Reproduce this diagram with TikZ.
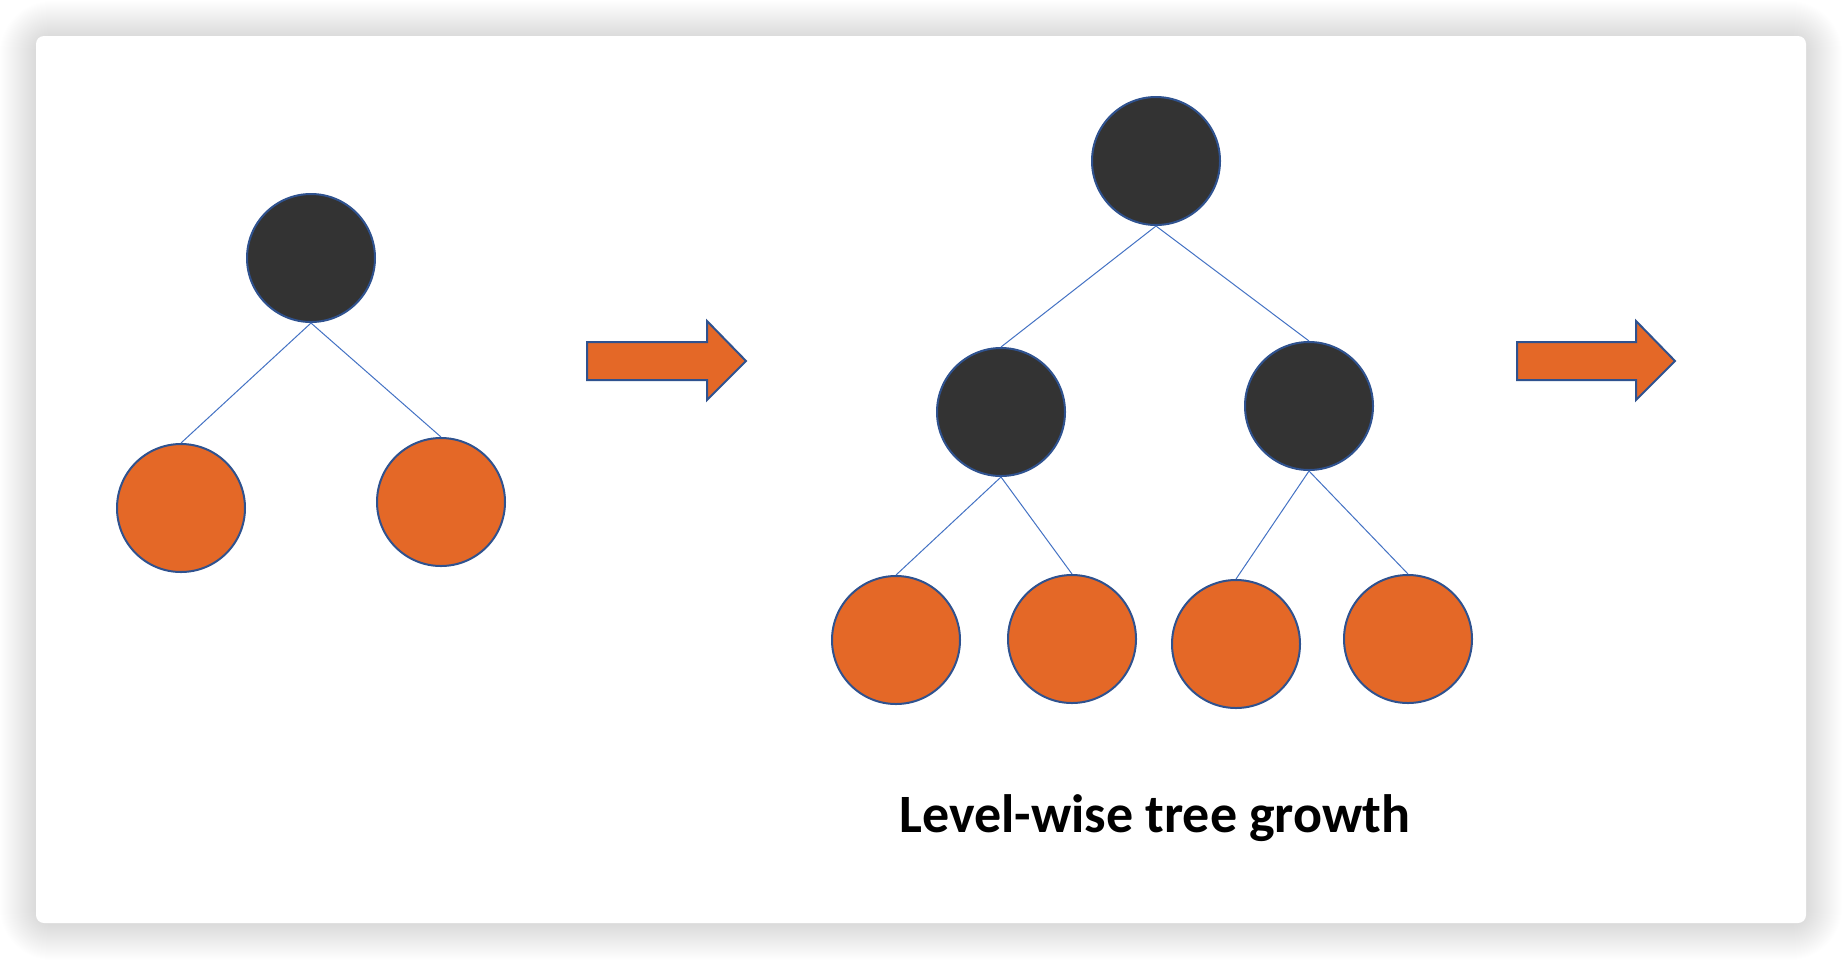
\documentclass[tikz,border=0pt]{standalone}
\usepackage{fontspec}
\newfontfamily\titlefont{Carlito}
\definecolor{darkfill}{HTML}{333333}
\definecolor{orangefill}{HTML}{E46827}
\definecolor{nodeborder}{HTML}{2F528F}
\definecolor{edgeblue}{HTML}{4472C4}
\begin{document}
\begin{tikzpicture}[x=0.5pt,y=-0.5pt,
  treenode/.style={circle,draw=nodeborder,line width=1pt,minimum size=64pt,inner sep=0pt},
  dk/.style={treenode,fill=darkfill},
  leaf/.style={treenode,fill=orangefill},
  edge/.style={draw=edgeblue,line width=0.5pt},
  bigarrow/.style={draw=nodeborder,line width=1pt,fill=orangefill,line join=miter}]
\useasboundingbox (0,0) rectangle (1842,960);
% card shadow
\foreach \i in {1,...,36}{
  \fill[black,opacity=0.0058,rounded corners=8+\i*0.5] (36-\i,36-\i+1) rectangle (1806+\i,923+\i+1);
}
\fill[white,rounded corners=4pt] (36,36) rectangle (1806,923);
% first tree
\node[dk] (r1) at (311,258) {};
\node[leaf] (a1) at (181,508) {};
\node[leaf] (a2) at (441,502) {};
\draw[edge] (r1.south) -- (a1.north);
\draw[edge] (r1.south) -- (a2.north);
% arrow 1
\draw[bigarrow] (587,342) -- (707,342) -- (707,321) -- (746,361) -- (707,400) -- (707,380) -- (587,380) -- cycle;
% second tree
\node[dk] (r2) at (1156,161) {};
\node[dk] (m1) at (1001,412) {};
\node[dk] (m2) at (1309,406) {};
\node[leaf] (l1) at (896,640) {};
\node[leaf] (l2) at (1072,639) {};
\node[leaf] (l3) at (1236,644) {};
\node[leaf] (l4) at (1408,639) {};
\draw[edge] (r2.south) -- (m1.north);
\draw[edge] (r2.south) -- (m2.north);
\draw[edge] (m1.south) -- (l1.north);
\draw[edge] (m1.south) -- (l2.north);
\draw[edge] (m2.south) -- (l3.north);
\draw[edge] (m2.south) -- (l4.north);
% arrow 2
\draw[bigarrow] (1517,342) -- (1636,342) -- (1636,321) -- (1675,361) -- (1636,400) -- (1636,380) -- (1517,380) -- cycle;
% caption
\node[font=\titlefont\bfseries\fontsize{27}{32}\selectfont,anchor=base,inner sep=0pt] (title) at (1155,832) {Level-wise tree growth};
\end{tikzpicture}
\end{document}
